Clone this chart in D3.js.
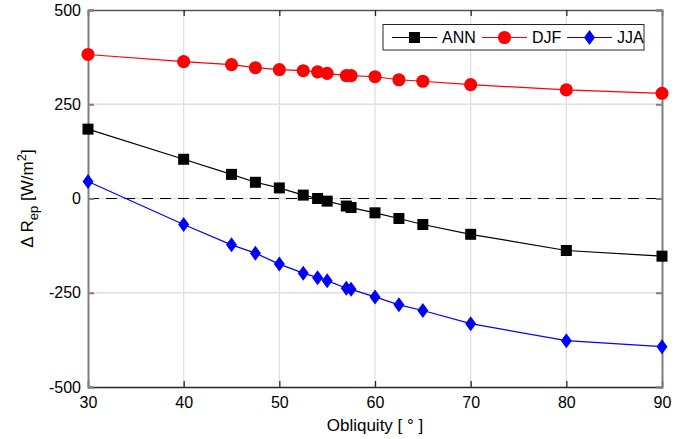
<!DOCTYPE html>
<html>
<head>
<meta charset="utf-8">
<script src="https://cdn.jsdelivr.net/npm/d3@7"></script>
<style>
  body { margin: 0; background: #fff; }
  svg text { font-family: "Liberation Sans", Arial, Helvetica, sans-serif; fill: #000; }
</style>
</head>
<body>
<div id="chart"></div>
<script>
const obliquity = [30, 40, 45, 47.5, 50, 52.5, 54, 55, 57, 57.5, 60, 62.5, 65, 70, 80, 90];
const annValues = [184, 104, 64, 43, 28, 9, 0, -7, -20, -24, -38, -53, -69, -95, -138, -153];
const djfValues = [382, 363, 355, 347, 342, 339, 336, 332, 326, 326, 323, 315, 311, 302, 288, 279];
const jjaValues = [45, -69, -123, -145, -174, -198, -210, -218, -238, -241, -261, -282, -297, -332, -377, -393];
const xTicks = [30, 40, 50, 60, 70, 80, 90];
const yTicks = [-500, -250, 0, 250, 500];

const series = [
  { name: "ANN", values: annValues, color: "#000000", marker: "square" },
  { name: "DJF", values: djfValues, color: "#ff0000", marker: "circle" },
  { name: "JJA", values: jjaValues, color: "#0000ff", marker: "diamond" },
];

const width = 687, height = 439;
const margin = { top: 10, right: 25, bottom: 52, left: 88 };

const svg = d3.select("#chart").append("svg")
  .attr("width", width).attr("height", height);

const x = d3.scaleLinear().domain([30, 90]).range([margin.left, width - margin.right]);
const y = d3.scaleLinear().domain([-500, 500]).range([height - margin.bottom, margin.top]);

// grid
svg.append("g").selectAll("line").data(xTicks.slice(1, -1)).join("line")
  .attr("x1", d => x(d)).attr("x2", d => x(d))
  .attr("y1", y(500)).attr("y2", y(-500))
  .attr("stroke", "#e0e0e0").attr("stroke-width", 1.3);
svg.append("g").selectAll("line").data(yTicks.slice(1, -1)).join("line")
  .attr("x1", x(30)).attr("x2", x(90))
  .attr("y1", d => y(d)).attr("y2", d => y(d))
  .attr("stroke", "#e0e0e0").attr("stroke-width", 1.3);

// zero dashed line
svg.append("line")
  .attr("x1", x(30)).attr("x2", x(90))
  .attr("y1", y(0)).attr("y2", y(0))
  .attr("stroke", "#000").attr("stroke-width", 1)
  .attr("stroke-dasharray", "11,7");

// axes (ticks pointing inward like matlab), plain hyphen for negatives
const fmt = d => String(d);
const axBottom = svg.append("g").attr("transform", `translate(0,${y(-500)})`)
  .call(d3.axisBottom(x).tickValues(xTicks).tickSize(-6).tickPadding(10).tickFormat(fmt));
const axTop = svg.append("g").attr("transform", `translate(0,${y(500)})`)
  .call(d3.axisTop(x).tickValues(xTicks).tickSize(-6).tickFormat(""));
const axLeft = svg.append("g").attr("transform", `translate(${x(30)},0)`)
  .call(d3.axisLeft(y).tickValues(yTicks).tickSize(-6).tickPadding(7).tickFormat(fmt));
const axRight = svg.append("g").attr("transform", `translate(${x(90)},0)`)
  .call(d3.axisRight(y).tickValues(yTicks).tickSize(-6).tickFormat(""));

[axBottom, axTop, axLeft, axRight].forEach(g => {
  g.selectAll("text").style("font-size", "16px");
  g.select(".domain").attr("stroke", "#262626").attr("stroke-width", 1.3);
  g.selectAll(".tick line").attr("stroke", "#262626").attr("stroke-width", 1.3);
});
[axLeft, axRight].forEach(g => {
  g.select(".domain").attr("stroke", "#7f7f7f").attr("stroke-width", 2);
  g.selectAll(".tick line").attr("stroke", "#7f7f7f").attr("stroke-width", 2);
});
axTop.select(".domain").attr("stroke", "#555");

// lines and markers
const line = d3.line().x((d, i) => x(obliquity[i])).y(d => y(d));

const markerPath = (type) => {
  if (type === "square") return d3.symbol(d3.symbolSquare, 121)();
  if (type === "circle") return d3.symbol(d3.symbolCircle, 135)();
  return "M0,-7.5L5.5,0L0,7.5L-5.5,0Z";
};

series.forEach(s => {
  svg.append("path").datum(s.values)
    .attr("d", line)
    .attr("fill", "none").attr("stroke", s.color).attr("stroke-width", 1.2);
  svg.append("g").selectAll("path").data(s.values).join("path")
    .attr("d", markerPath(s.marker))
    .attr("transform", (d, i) => `translate(${x(obliquity[i])},${y(d)})`)
    .attr("fill", s.color);
});

// legend
const legend = svg.append("g");
legend.append("rect")
  .attr("x", 383).attr("y", 24.5).attr("width", 261).attr("height", 25.5)
  .attr("fill", "#fff").attr("stroke", "#262626").attr("stroke-width", 1);
const legX = [392, 482, 567];
series.forEach((s, i) => {
  const g = legend.append("g").attr("transform", `translate(${legX[i]},37.5)`);
  g.append("line").attr("x1", 0).attr("x2", 45).attr("stroke", s.color).attr("stroke-width", 1.2);
  g.append("path").attr("d", markerPath(s.marker))
    .attr("transform", "translate(22.5,0)").attr("fill", s.color);
  g.append("text").attr("x", 50).attr("dy", "0.36em")
    .style("font-size", "16px").text(s.name);
});

// axis labels
svg.append("text")
  .attr("x", x(60)).attr("y", 431)
  .attr("text-anchor", "middle").style("font-size", "17px")
  .text("Obliquity [ \u00b0 ]");

const yl = svg.append("text")
  .attr("transform", `translate(33,${y(0)}) rotate(-90)`)
  .attr("text-anchor", "middle").style("font-size", "17px");
yl.append("tspan").text("\u0394 R");
yl.append("tspan").attr("dy", 5).style("font-size", "13px").text("ep");
yl.append("tspan").attr("dy", -5).text(" [W/m");
yl.append("tspan").attr("dy", -7).style("font-size", "13px").text("2");
yl.append("tspan").attr("dy", 7).text("]");
</script>
</body>
</html>
